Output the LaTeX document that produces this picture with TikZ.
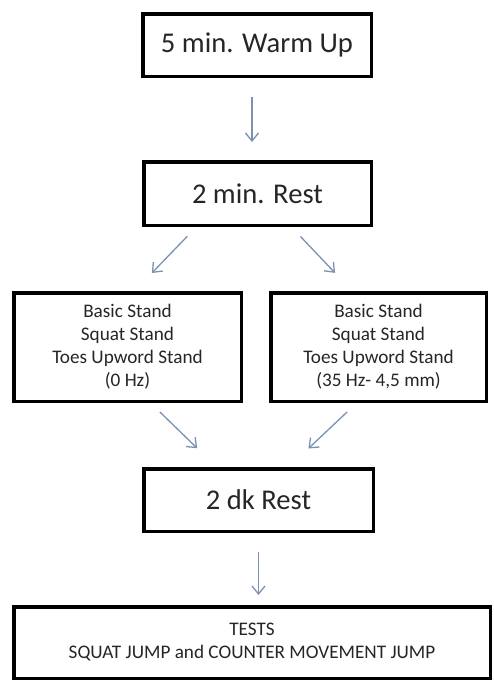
\documentclass[tikz,border=0pt]{standalone}
\usepackage{fontspec}
\setmainfont{Carlito}
\usetikzlibrary{arrows.meta, positioning, calc}
\definecolor{flowblue}{RGB}{122,146,176}

\begin{document}
\begin{tikzpicture}[
    x=1pt, y=-1pt,
    >={Straight Barb[length=8pt, width=13pt]},
    box/.style={draw, line width=3.5pt, inner sep=0pt, text=black!85},
    bigbox/.style={box, minimum height=62.5pt,
        font=\fontsize{28.6}{34}\selectfont},
    smallbox/.style={box, minimum height=108.5pt, align=center,
        font=\fontsize{19.2}{23}\selectfont},
    flow/.style={->, draw=flowblue, line width=1.3pt}
  ]
  \path[use as bounding box, fill=white] (0,0) rectangle (494,681);

  \node[bigbox, minimum width=228.5pt] (warm) at (257,45) {5 min. Warm Up};
  \node[bigbox, minimum width=227.5pt, minimum height=63.5pt] (rest1)
    at (257.5,193.5) {2 min. Rest};
  \node[smallbox, minimum width=227.5pt] (stand0) at (127.5,347)
    {Basic Stand\\ Squat Stand\\ Toes Upword Stand\\ (0 Hz)};
  \node[smallbox, minimum width=215.5pt] (stand35) at (378.5,347)
    {Basic Stand\\ Squat Stand\\ Toes Upword Stand\\ (35 Hz- 4,5 mm)};
  \node[bigbox, minimum width=229.5pt] (rest2) at (258.5,500) {2 dk Rest};
  \node[smallbox, minimum width=476.5pt, minimum height=71.5pt] (tests)
    at (252,642.5) {TESTS\\ SQUAT JUMP and COUNTER MOVEMENT JUMP};

  \draw[flow, shorten <=19pt, shorten >=18pt]
    ([xshift=-5pt]warm.south) -- ([xshift=-5.5pt]rest1.north);
  \draw[flow, shorten <=13pt, shorten >=25pt]
    ($(rest1.south west)!0.235!(rest1.south east)$) --
    ($(stand0.north west)!0.53!(stand0.north east)$);
  \draw[flow, shorten <=13pt, shorten >=25pt]
    ($(rest1.south west)!0.647!(rest1.south east)$) --
    ($(stand35.north west)!0.38!(stand35.north east)$);
  \draw[flow, shorten <=13pt, shorten >=27pt]
    ($(stand0.south west)!0.60!(stand0.south east)$) --
    ($(rest2.north west)!0.32!(rest2.north east)$);
  \draw[flow, shorten <=13pt, shorten >=27pt]
    ($(stand35.south west)!0.40!(stand35.south east)$) --
    ($(rest2.north west)!0.63!(rest2.north east)$);
  \draw[flow, shorten <=19pt, shorten >=10pt]
    (rest2.south) -- (rest2.south |- tests.north);
\end{tikzpicture}
\end{document}
